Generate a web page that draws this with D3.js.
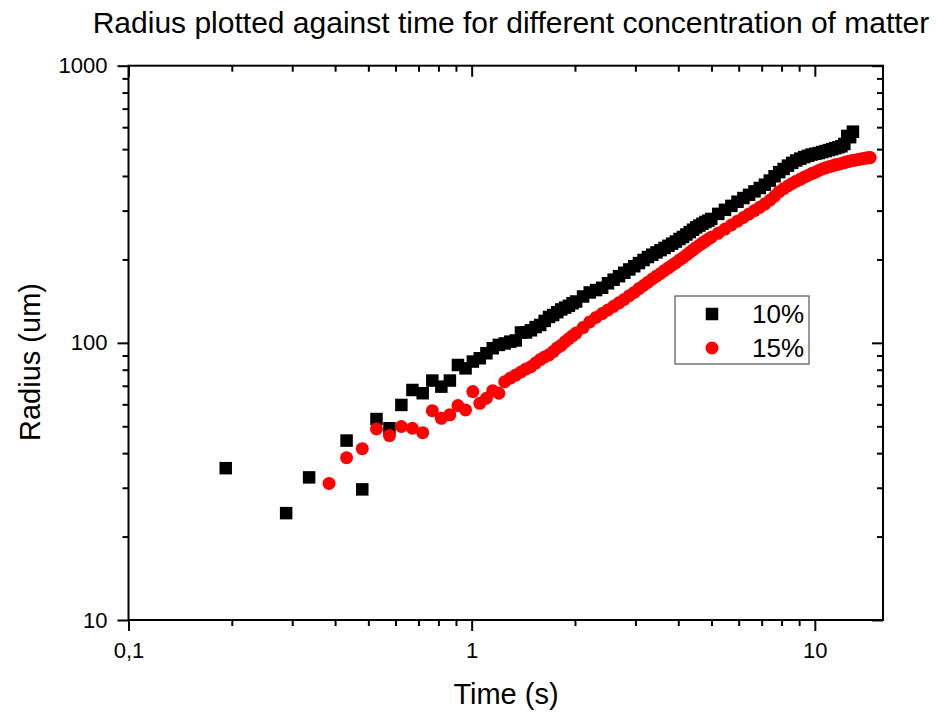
<!DOCTYPE html>
<html>
<head>
<meta charset="utf-8">
<script src="https://cdn.jsdelivr.net/npm/d3@7"></script>
<style>
  body { margin: 0; background: #fff; }
  text { font-family: "Liberation Sans", Arial, sans-serif; fill: #000; }
</style>
</head>
<body>
<svg id="chart"></svg>
<script>
// data (time in s, radius in um)
const series10 = [
  [0.192, 35.3], [0.288, 24.3], [0.336, 32.7], [0.432, 44.4], [0.48, 29.6], [0.528, 53.1],
  [0.576, 49.2], [0.624, 59.7], [0.672, 67.6], [0.72, 65.8], [0.768, 73.1], [0.816, 69.5],
  [0.864, 73.1], [0.912, 83.2], [0.96, 80.9], [1.008, 85.6], [1.056, 88.0], [1.104, 91.7],
  [1.152, 95.6], [1.2, 98.3], [1.248, 99.5], [1.296, 101], [1.344, 102], [1.392, 109],
  [1.44, 109], [1.488, 111], [1.536, 114], [1.584, 116], [1.632, 120], [1.68, 124],
  [1.728, 126], [1.776, 129], [1.824, 132], [1.872, 134], [1.92, 136], [1.968, 139],
  [2.016, 141], [2.112, 147], [2.208, 152], [2.304, 155], [2.4, 158], [2.496, 164],
  [2.592, 169], [2.688, 174], [2.784, 179], [2.88, 184], [2.976, 189], [3.072, 194],
  [3.168, 199], [3.264, 204], [3.36, 208], [3.456, 212], [3.552, 216], [3.648, 220],
  [3.744, 224], [3.84, 228], [3.936, 232], [4.032, 237], [4.128, 241], [4.224, 246],
  [4.32, 251], [4.416, 256], [4.512, 261], [4.608, 265], [4.704, 269], [4.8, 273],
  [4.896, 276], [4.992, 280], [5.232, 292], [5.472, 302], [5.712, 312], [5.952, 323],
  [6.192, 333], [6.432, 342], [6.672, 352], [6.912, 362], [7.152, 372], [7.392, 385],
  [7.632, 399], [7.872, 413], [8.112, 424], [8.352, 436], [8.592, 446], [8.832, 455],
  [9.072, 462], [9.312, 468], [9.552, 473], [9.792, 478], [10.032, 481], [10.272, 484],
  [10.512, 488], [10.752, 492], [10.992, 496], [11.232, 500], [11.472, 504], [11.712, 508],
  [11.952, 512], [12.192, 522], [12.432, 558], [12.672, 552], [12.912, 578]
];
const series15 = [
  [0.384, 31.1], [0.432, 38.5], [0.48, 41.5], [0.528, 48.9], [0.576, 46.3], [0.624, 49.9],
  [0.672, 49.2], [0.72, 47.4], [0.768, 56.9], [0.816, 53.4], [0.864, 55.0], [0.912, 59.4],
  [0.96, 57.3], [1.008, 66.7], [1.056, 60.5], [1.104, 63.1], [1.152, 67.2], [1.2, 65.8],
  [1.248, 72.4], [1.296, 74.6], [1.344, 76.5], [1.392, 78.5], [1.44, 80.5], [1.488, 82],
  [1.536, 84.5], [1.584, 87], [1.632, 89], [1.68, 90.5], [1.728, 93], [1.776, 96],
  [1.824, 98], [1.872, 101], [1.92, 103.5], [1.968, 106], [2.016, 108.5], [2.112, 113.5],
  [2.208, 119], [2.304, 123.5], [2.4, 127.5], [2.496, 131.5], [2.592, 135.5], [2.688, 139.5],
  [2.784, 143.5], [2.88, 148], [2.976, 152], [3.072, 157], [3.168, 161], [3.264, 165.5],
  [3.36, 170], [3.456, 174], [3.552, 178], [3.648, 182.5], [3.744, 186.5], [3.84, 190.5],
  [3.936, 194.5], [4.032, 199], [4.128, 203], [4.224, 207.5], [4.32, 212], [4.416, 216.5],
  [4.512, 221], [4.608, 225], [4.704, 229], [4.8, 233], [4.896, 237], [4.992, 240.5],
  [5.232, 248.7], [5.472, 257.4], [5.712, 266.2], [5.952, 274.8], [6.192, 283.3], [6.432, 291.8],
  [6.672, 300.2], [6.912, 308.6], [7.152, 316.8], [7.392, 327], [7.632, 338], [7.872, 351],
  [8.112, 360], [8.352, 368], [8.592, 376], [8.832, 383], [9.072, 389], [9.312, 396],
  [9.552, 402], [9.792, 408], [10.032, 413], [10.272, 419], [10.512, 424], [10.752, 428],
  [10.992, 432], [11.232, 435], [11.472, 439], [11.712, 441], [11.952, 444], [12.192, 447],
  [12.432, 450], [12.672, 453], [12.912, 455], [13.152, 457], [13.392, 459], [13.632, 461],
  [13.872, 463], [14.112, 464], [14.352, 465], [14.496, 466]
];
const legendLabels = ["10%", "15%"];
const xMajorTicks = [0.1, 1, 10];
const xTickLabels = ["0,1", "1", "10"];
const yMajorTicks = [10, 100, 1000];
const yTickLabels = ["10", "100", "1000"];

const width = 936;
const height = 713;
const plot = { left: 128.5, right: 883, top: 65.7, bottom: 620 };

const svg = d3.select("#chart").attr("width", width).attr("height", height);

const x = d3.scaleLog().domain([0.1, 15.8]).range([plot.left, plot.right]);
const y = d3.scaleLog().domain([10, 1000]).range([plot.bottom, plot.top]);

const xMinor = x.ticks().filter((d) => !xMajorTicks.includes(d));
const yMinor = y.ticks().filter((d) => !yMajorTicks.includes(d));

const majorLen = 11;
const minorLen = 6;

function styleAxis(g) {
  g.select(".domain").remove();
  g.selectAll(".tick line").attr("stroke", "#000").attr("stroke-width", 2);
  g.selectAll(".tick text").style("font-size", "22px").attr("fill", "#000");
}

// bottom
svg.append("g").attr("transform", `translate(0,${plot.bottom})`)
  .call(d3.axisBottom(x).tickValues(xMinor).tickSize(minorLen).tickFormat(""))
  .call(styleAxis);
svg.append("g").attr("transform", `translate(0,${plot.bottom})`)
  .call(d3.axisBottom(x).tickValues(xMajorTicks).tickSize(majorLen).tickPadding(11)
    .tickFormat((d, i) => xTickLabels[i]))
  .call(styleAxis);
// top (inward, no labels)
svg.append("g").attr("transform", `translate(0,${plot.top})`)
  .call(d3.axisTop(x).tickValues(xMinor).tickSize(-minorLen).tickFormat(""))
  .call(styleAxis);
svg.append("g").attr("transform", `translate(0,${plot.top})`)
  .call(d3.axisTop(x).tickValues(xMajorTicks).tickSize(-majorLen).tickFormat(""))
  .call(styleAxis);
// left
svg.append("g").attr("transform", `translate(${plot.left},0)`)
  .call(d3.axisLeft(y).tickValues(yMinor).tickSize(minorLen).tickFormat(""))
  .call(styleAxis);
svg.append("g").attr("transform", `translate(${plot.left},0)`)
  .call(d3.axisLeft(y).tickValues(yMajorTicks).tickSize(majorLen).tickPadding(10)
    .tickFormat((d, i) => yTickLabels[i]))
  .call(styleAxis);
// right (inward, no labels)
svg.append("g").attr("transform", `translate(${plot.right},0)`)
  .call(d3.axisRight(y).tickValues(yMinor).tickSize(-minorLen).tickFormat(""))
  .call(styleAxis);
svg.append("g").attr("transform", `translate(${plot.right},0)`)
  .call(d3.axisRight(y).tickValues(yMajorTicks).tickSize(-majorLen).tickFormat(""))
  .call(styleAxis);

// frame
svg.append("rect")
  .attr("x", plot.left).attr("y", plot.top)
  .attr("width", plot.right - plot.left).attr("height", plot.bottom - plot.top)
  .attr("fill", "none").attr("stroke", "#000").attr("stroke-width", 2);

// markers
const square = d3.symbol().type(d3.symbolSquare).size(12.5 * 12.5);
const circle = d3.symbol().type(d3.symbolCircle).size(Math.PI * 6.5 * 6.5);

svg.append("g").selectAll("path")
  .data(series10).enter().append("path")
  .attr("d", square)
  .attr("transform", (d) => `translate(${x(d[0])},${y(d[1])})`)
  .attr("fill", "#000");

svg.append("g").selectAll("path")
  .data(series15).enter().append("path")
  .attr("d", circle)
  .attr("transform", (d) => `translate(${x(d[0])},${y(d[1])})`)
  .attr("fill", "#ff0000");

// legend
const legend = svg.append("g").attr("transform", "translate(675,296)");
legend.append("rect").attr("width", 134).attr("height", 68)
  .attr("fill", "#fff").attr("stroke", "#555").attr("stroke-width", 1.2);
legend.append("path").attr("d", square).attr("transform", "translate(37,18)").attr("fill", "#000");
legend.append("path").attr("d", circle).attr("transform", "translate(37,52)").attr("fill", "#ff0000");
legend.selectAll("text.lab").data(legendLabels).enter().append("text")
  .attr("class", "lab")
  .attr("x", 77).attr("y", (d, i) => 18 + i * 34)
  .attr("dy", "0.35em")
  .style("font-size", "26px")
  .text((d) => d);

// titles
svg.append("text")
  .attr("x", 511).attr("y", 33)
  .attr("text-anchor", "middle")
  .style("font-size", "30px")
  .text("Radius plotted against time for different concentration of matter");

svg.append("text")
  .attr("x", 506).attr("y", 704)
  .attr("text-anchor", "middle")
  .style("font-size", "29px")
  .text("Time (s)");

svg.append("text")
  .attr("transform", "translate(40,362) rotate(-90)")
  .attr("text-anchor", "middle")
  .style("font-size", "29px")
  .text("Radius (um)");
</script>
</body>
</html>
